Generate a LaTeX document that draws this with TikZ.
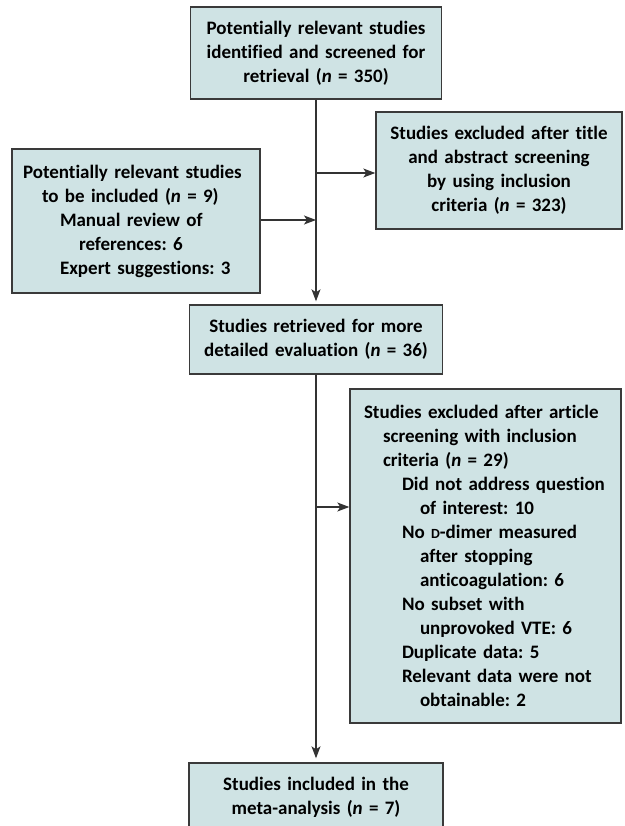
\documentclass[tikz,border=0pt]{standalone}
\usepackage{fontspec}
\setmainfont{Carlito}[Ligatures=NoCommon]
\usetikzlibrary{arrows.meta}
\definecolor{boxfill}{HTML}{CFE3E4}
\definecolor{edgegrey}{HTML}{3A3A3A}
\definecolor{linegrey}{HTML}{333333}
\frenchspacing
\begin{document}
\begin{tikzpicture}[x=1pt,y=-1pt,
  flowbox/.style={draw=edgegrey, line width=1.4pt, fill=boxfill, inner sep=0pt,
    font=\bfseries\fontsize{19}{24}\selectfont},
  arr/.style={draw=linegrey, line width=1.2pt, -{Stealth[length=12pt,width=9pt,inset=3pt]}}]
\clip (0,0) rectangle (624,826);
\fill[white] (0,0) rectangle (624,826);

\node[flowbox, minimum width=251pt, minimum height=92pt, text width=240pt, align=center]
  (top) at (316,53) {Potentially relevant studies\\identified and screened for\\retrieval (\textit{n} = 350)};

\node[flowbox, minimum width=246pt, minimum height=117pt, text width=238pt, align=center]
  (r1) at (499,170.5) {Studies excluded after title\\and abstract screening\\by using inclusion\\criteria (\textit{n} = 323)};

\node[flowbox, minimum width=248pt, minimum height=144pt, text width=226pt, align=left]
  (left) at (136,221) {Potentially relevant studies\\
  \hspace*{19pt}to be included (\textit{n} = 9)\\
  \hspace*{37pt}Manual review of\\
  \hspace*{56pt}references: 6\\
  \hspace*{37pt}Expert suggestions: 3};

\node[flowbox, minimum width=253pt, minimum height=69pt, text width=240pt, align=center]
  (b2) at (316,339.5) {Studies retrieved for more\\detailed evaluation (\textit{n} = 36)};

\node[flowbox, minimum width=271pt, minimum height=334pt, text width=243pt, align=left]
  (r2) at (485.5,556) {Studies excluded after article\\
  \hspace*{19pt}screening with inclusion\\
  \hspace*{19pt}criteria (\textit{n} = 29)\\
  \hspace*{38pt}Did not address question\\
  \hspace*{56pt}of interest: 10\\
  \hspace*{38pt}No {\fontsize{14}{24}\selectfont D}-dimer measured\\
  \hspace*{56pt}after stopping\\
  \hspace*{56pt}anticoagulation: 6\\
  \hspace*{38pt}No subset with\\
  \hspace*{56pt}unprovoked VTE: 6\\
  \hspace*{38pt}Duplicate data: 5\\
  \hspace*{38pt}Relevant data were not\\
  \hspace*{56pt}obtainable: 2};

\node[flowbox, minimum width=254pt, minimum height=69pt, text width=240pt, align=center]
  (fin) at (316,797.5) {Studies included in the\\meta-analysis (\textit{n} = 7)};

\coordinate (a1) at (316,173);
\coordinate (a2) at (316,220);
\coordinate (a3) at (316,507);

\draw[arr, shorten >=3pt] (top.south) -- (b2.north);
\draw[arr] (a1) -- (a1 -| r1.west);
\draw[arr] (a2 -| left.east) -- (a2);
\draw[arr, shorten >=4pt] (b2.south) -- (fin.north);
\draw[arr] (a3) -- (a3 -| r2.west);
\end{tikzpicture}
\end{document}
